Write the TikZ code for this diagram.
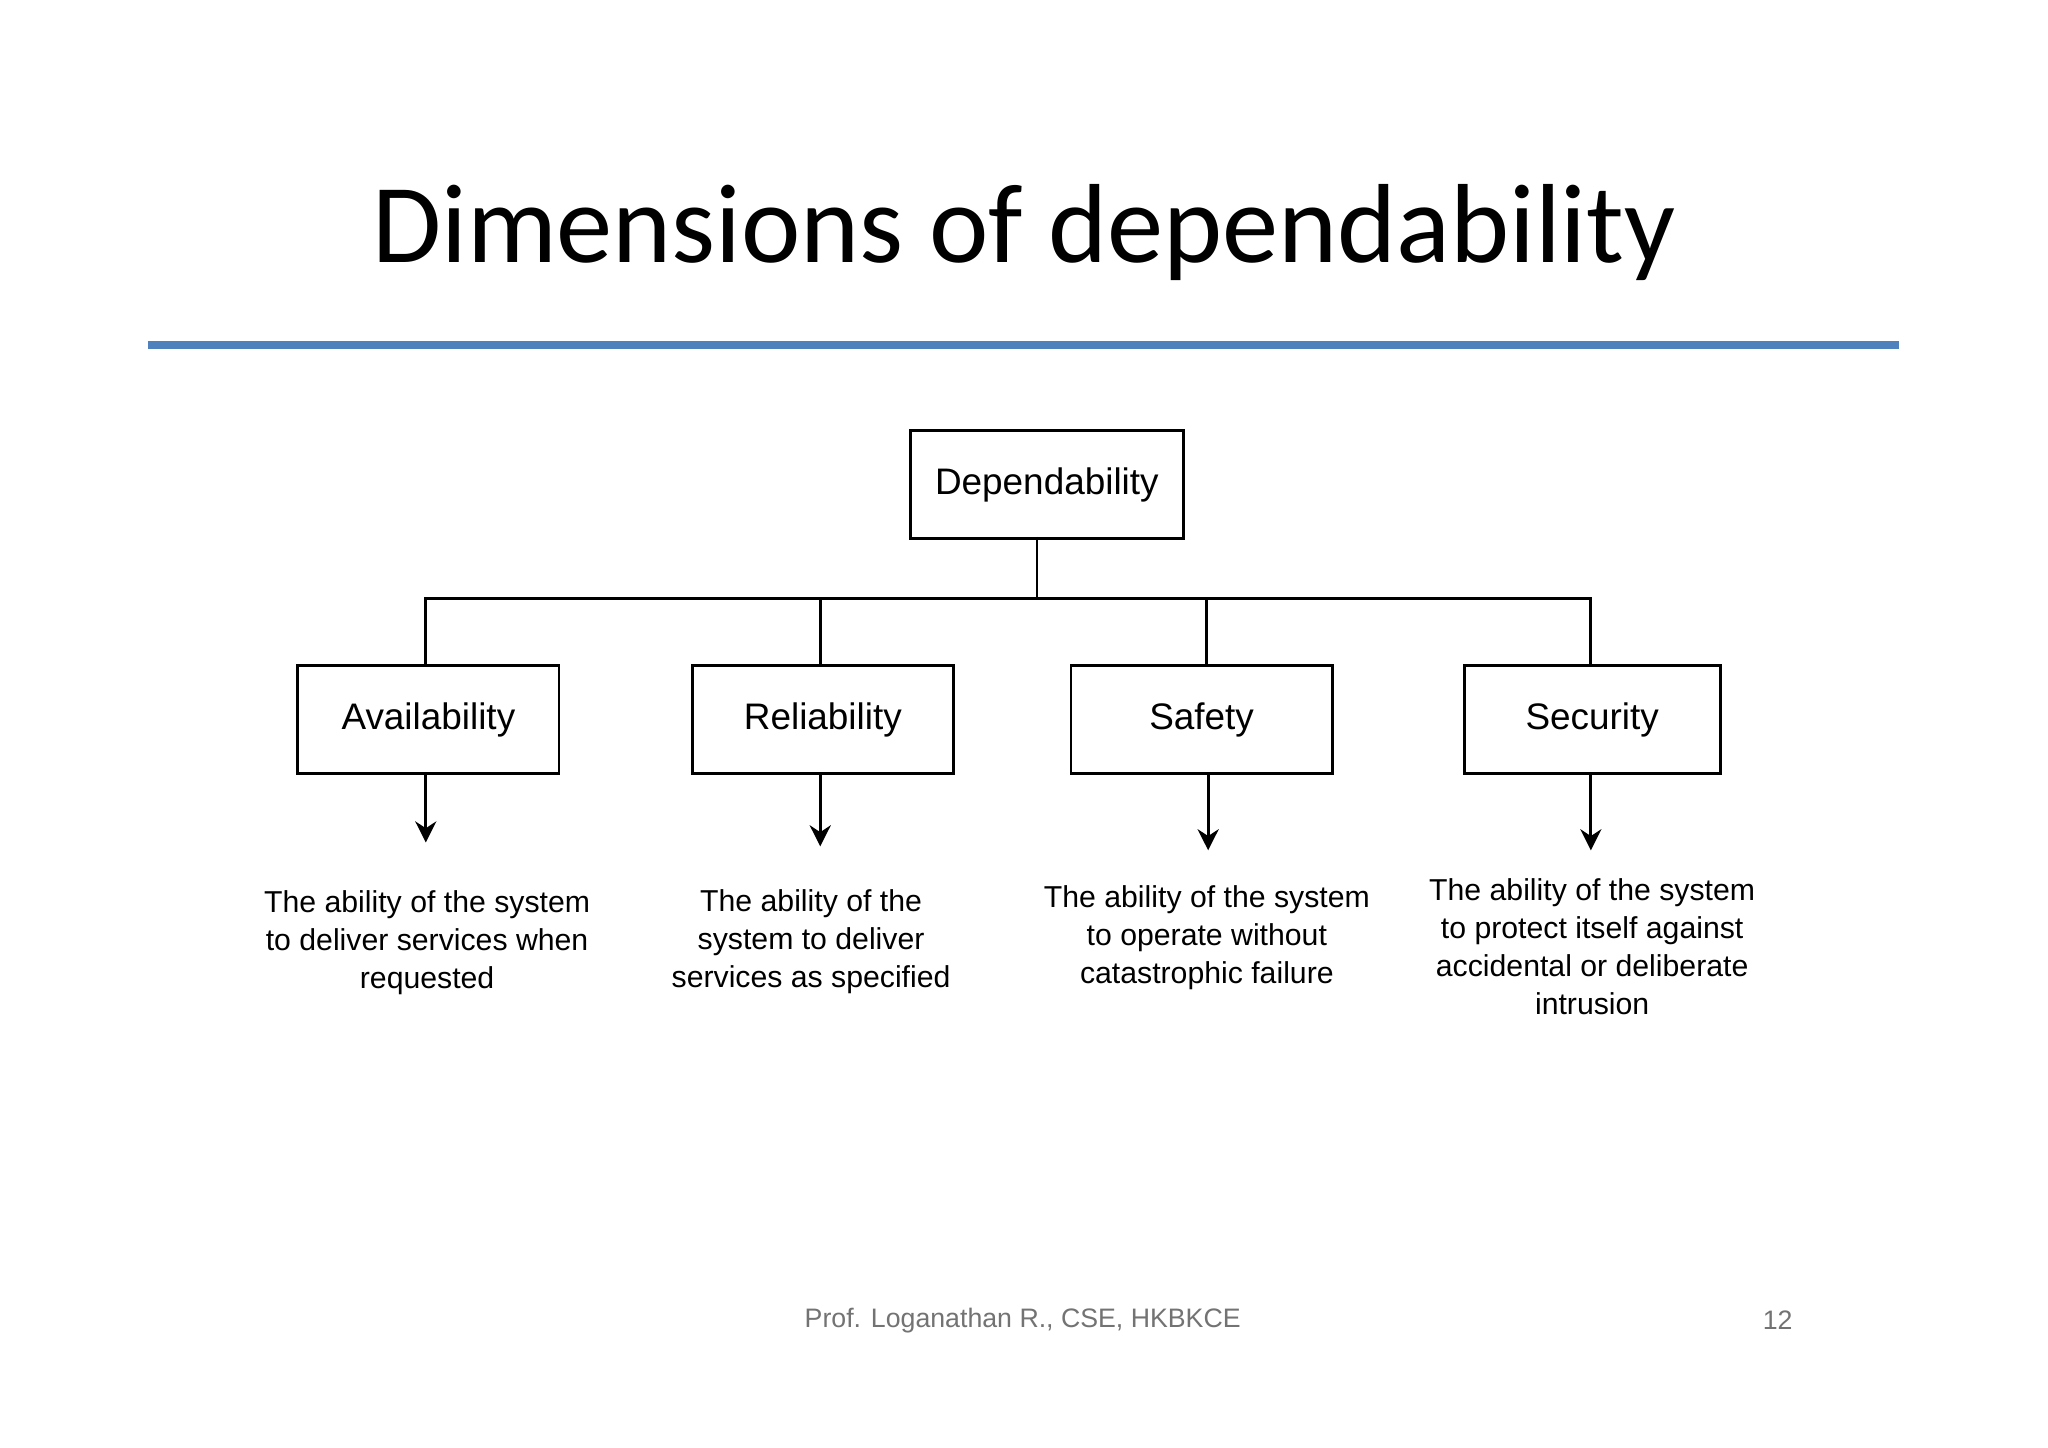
\documentclass[tikz,border=0pt]{standalone}
\usepackage{fontspec}
\setmainfont{Liberation Sans}
\newfontfamily\titlefont{Carlito}
\usetikzlibrary{arrows.meta}
\definecolor{rule}{RGB}{79,129,189}
\begin{document}
\begin{tikzpicture}[x=0.01306cm,y=-0.01306cm,
  box/.style={draw,line width=0.8pt,minimum height=0.01306cm*83,inner sep=0pt,font=\fontsize{10.5}{12}\selectfont},
  desc/.style={align=center,font=\fontsize{8.6}{10.8}\selectfont},
  conn/.style={line width=0.8pt},
  arr/.style={line width=0.8pt,-{Stealth[length=6pt,width=6pt]}}]
\useasboundingbox (0,0) rectangle (1568,1108);
\fill[white] (0,0) rectangle (1568,1108);
\node[font=\titlefont\fontsize{32}{36}\selectfont] (title) at (784,178) {Dimensions of dependability};
\draw[rule,line width=2.3pt] (113,264) -- (1454,264);
\node[box,minimum width=0.01306cm*209] (dep) at (801.5,371) {Dependability};
\node[box,minimum width=0.01306cm*200] (av) at (328,551) {Availability};
\node[box,minimum width=0.01306cm*200] (re) at (630,551) {Reliability};
\node[box,minimum width=0.01306cm*200] (sa) at (920,551) {Safety};
\node[box,minimum width=0.01306cm*196] (se) at (1219,551) {Security};
\coordinate (j) at (794,458);
\draw[conn] (794,411) -- (j);
\draw[conn] (326,509) -- (326,458) -- (1218,458) -- (1218,509);
\draw[conn] (628,458) -- (628,509);
\draw[conn] (924,458) -- (924,509);
\node[desc] (dav) at (327,722) {The ability of the system\\to deliver services when\\requested};
\node[desc] (dre) at (621,721) {The ability of the\\system to deliver\\services as specified};
\node[desc] (dsa) at (924,718) {The ability of the system\\to operate without\\catastrophic failure};
\node[desc] (dse) at (1219,725) {The ability of the system\\to protect itself against\\accidental or deliberate\\intrusion};
\draw[arr] (326,593) -- (326,645);
\draw[arr] (628,593) -- (628,648);
\draw[arr] (925,593) -- (925,651);
\draw[arr] (1218,593) -- (1218,651);
\node[text=black!55,font=\fontsize{7.6}{9}\selectfont] (foot) at (783,1011) {Prof. Loganathan R., CSE, HKBKCE};
\node[text=black!55,font=\fontsize{7.6}{9}\selectfont] (num) at (1361,1011) {12};
\end{tikzpicture}
\end{document}
